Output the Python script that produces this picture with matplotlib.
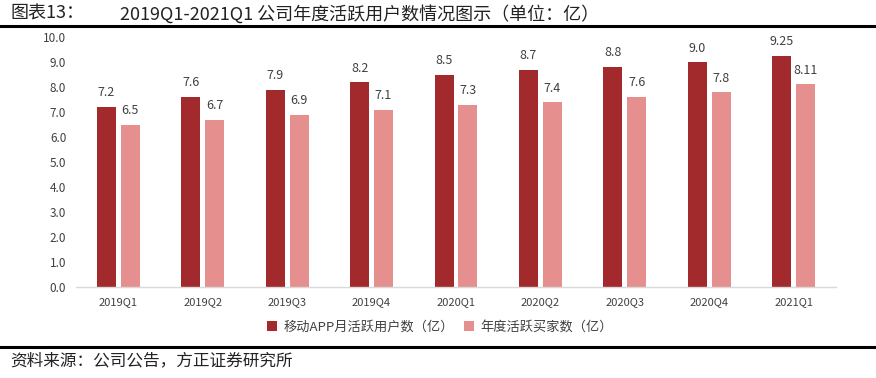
import numpy as np
import matplotlib
matplotlib.use("Agg")
import matplotlib.pyplot as plt
from matplotlib.lines import Line2D

plt.rcParams["font.family"] = ["Noto Sans CJK SC", "DejaVu Sans"]

# Data (unit: 亿)
quarters = ["2019Q1", "2019Q2", "2019Q3", "2019Q4", "2020Q1",
            "2020Q2", "2020Q3", "2020Q4", "2021Q1"]
app_mau = [7.2, 7.6, 7.9, 8.2, 8.5, 8.7, 8.8, 9.0, 9.25]
annual_buyers = [6.5, 6.7, 6.9, 7.1, 7.3, 7.4, 7.6, 7.8, 8.11]
app_labels = ["7.2", "7.6", "7.9", "8.2", "8.5", "8.7", "8.8", "9.0", "9.25"]
buyer_labels = ["6.5", "6.7", "6.9", "7.1", "7.3", "7.4", "7.6", "7.8", "8.11"]
series_names = ["移动APP月活跃用户数（亿）", "年度活跃买家数（亿）"]
yticks = [0, 1, 2, 3, 4, 5, 6, 7, 8, 9, 10]

DARK = "#A2292C"
LIGHT = "#E5908E"
TEXT = "#404040"

fig = plt.figure(figsize=(8.76, 3.78), dpi=100)
ax = fig.add_axes([76 / 876, 1 - 287 / 378, 760 / 876, 250 / 378])

x = np.arange(len(quarters))
w = 0.225
off = 0.142
b1 = ax.bar(x - off, app_mau, w, color=DARK)
b2 = ax.bar(x + off, annual_buyers, w, color=LIGHT)

for rect, lab in zip(b1, app_labels):
    ax.text(rect.get_x() + rect.get_width() / 2, rect.get_height() + 0.3, lab,
            ha="center", va="bottom", fontsize=9, color=TEXT)
for rect, lab in zip(b2, buyer_labels):
    ax.text(rect.get_x() + rect.get_width() / 2, rect.get_height() + 0.3, lab,
            ha="center", va="bottom", fontsize=9, color=TEXT)

ax.set_xlim(-0.5, len(quarters) - 0.5)
ax.set_ylim(0, 10)
ax.set_yticks(yticks)
ax.set_yticklabels([f"{v:.1f}" for v in yticks], fontsize=8.5, color=TEXT)
ax.set_xticks(x)
ax.set_xticklabels(quarters, fontsize=8, color=TEXT)
ax.tick_params(length=0, pad=7)
for s in ["top", "right", "left"]:
    ax.spines[s].set_visible(False)
ax.spines["bottom"].set_color("#D9D9D9")
ax.spines["bottom"].set_linewidth(1)

leg = ax.legend([b1, b2], series_names, loc="center",
                bbox_to_anchor=(440 / 876, 1 - 327 / 378),
                bbox_transform=fig.transFigure, ncol=2, frameon=False,
                fontsize=9.5, handlelength=0.7, handleheight=0.7,
                columnspacing=0.8, handletextpad=0.5)
for t in leg.get_texts():
    t.set_color(TEXT)

# header / footer
fig.text(10 / 876, 1 - 14 / 378, "图表13：", fontsize=13, va="center",
         color="#222222")
fig.text(120 / 876, 1 - 14 / 378, "2019Q1-2021Q1 公司年度活跃用户数情况图示（单位：亿）",
         fontsize=13, va="center", color="#222222")
fig.add_artist(Line2D([0, 1], [1 - 26 / 378] * 2, color="black", lw=2.2,
                      transform=fig.transFigure))
fig.add_artist(Line2D([0, 1], [1 - 347 / 378] * 2, color="black", lw=2.2,
                      transform=fig.transFigure))
fig.text(10 / 876, 1 - 361 / 378, "资料来源：公司公告，方正证券研究所",
         fontsize=12, va="center", color="#222222")

fig.savefig("out.png", dpi=100)
